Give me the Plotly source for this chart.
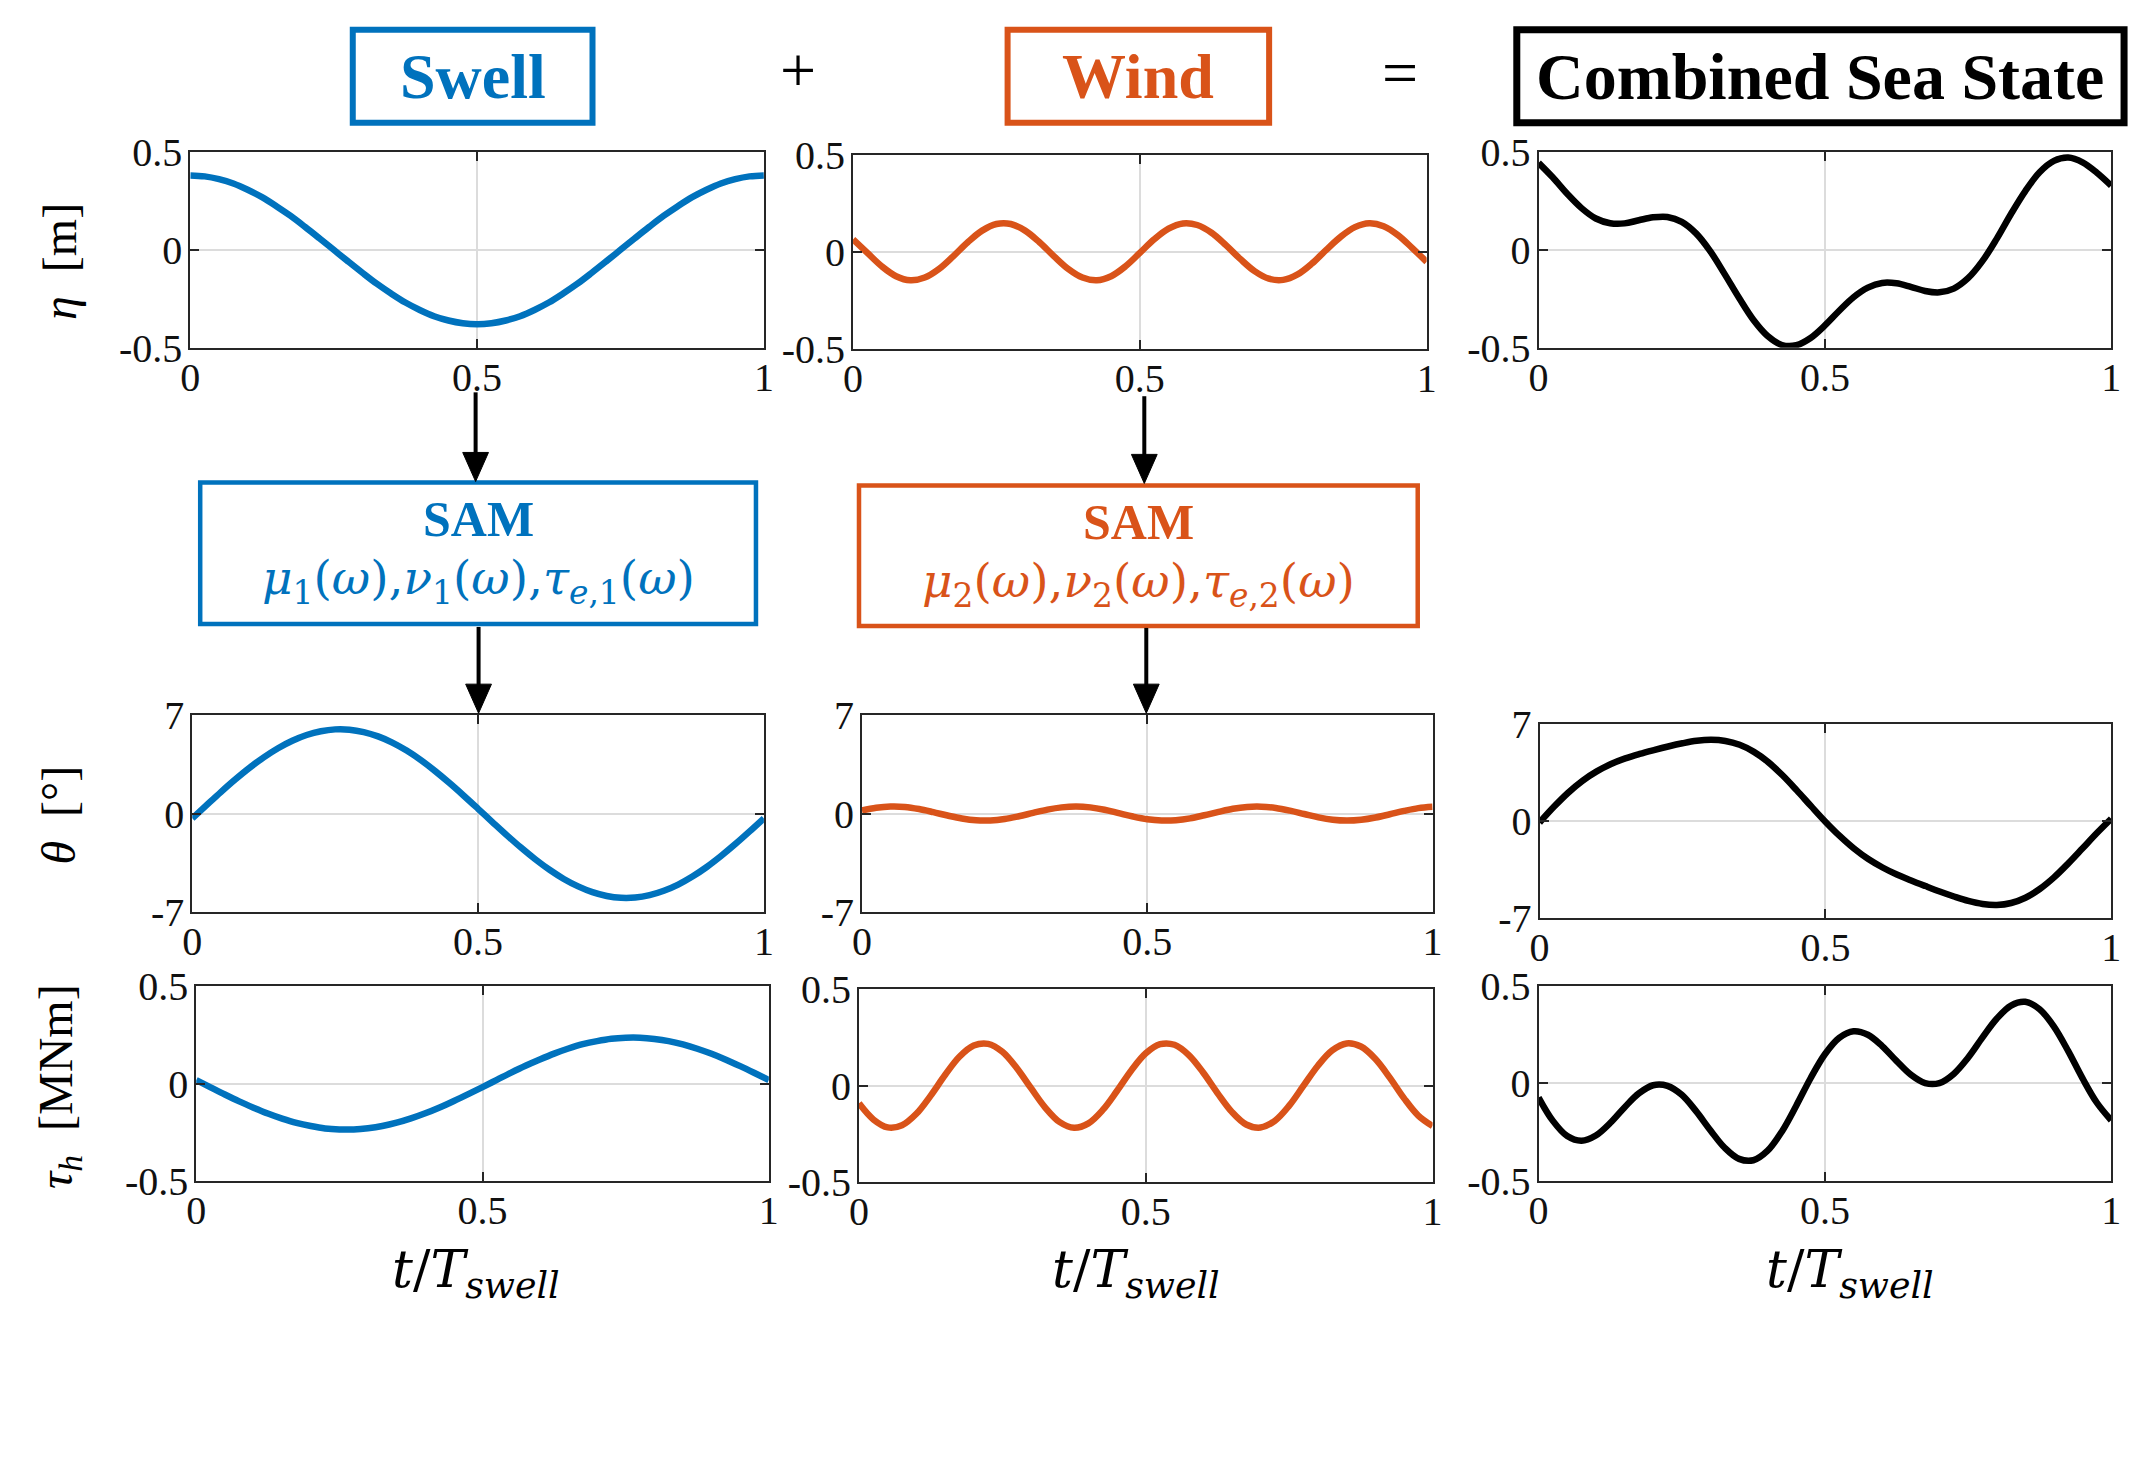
import plotly.graph_objects as go

W, H = 2141, 1474

# ---------------- data ----------------
t_norm = [0.000, 0.025, 0.050, 0.075, 0.100, 0.125, 0.150, 0.175, 0.200, 0.225,
          0.250, 0.275, 0.300, 0.325, 0.350, 0.375, 0.400, 0.425, 0.450, 0.475,
          0.500, 0.525, 0.550, 0.575, 0.600, 0.625, 0.650, 0.675, 0.700, 0.725,
          0.750, 0.775, 0.800, 0.825, 0.850, 0.875, 0.900, 0.925, 0.950, 0.975, 1.000]

eta_swell = [0.380, 0.375, 0.361, 0.339, 0.307, 0.269, 0.223, 0.173, 0.117, 0.059,
             0.000, -0.059, -0.117, -0.173, -0.223, -0.269, -0.307, -0.339, -0.361, -0.375,
             -0.380, -0.375, -0.361, -0.339, -0.307, -0.269, -0.223, -0.173, -0.117, -0.059,
             0.000, 0.059, 0.117, 0.173, 0.223, 0.269, 0.307, 0.339, 0.361, 0.375, 0.380]
eta_wind = [0.064, -0.006, -0.075, -0.126, -0.147, -0.133, -0.088, -0.022, 0.049, 0.109,
            0.143, 0.143, 0.109, 0.049, -0.022, -0.088, -0.133, -0.147, -0.126, -0.075,
            -0.006, 0.064, 0.119, 0.146, 0.138, 0.098, 0.034, -0.037, -0.100, -0.139,
            -0.145, -0.117, -0.061, 0.010, 0.077, 0.127, 0.147, 0.132, 0.086, 0.019, -0.052]
eta_comb = [0.444, 0.369, 0.286, 0.213, 0.160, 0.136, 0.135, 0.151, 0.166, 0.168,
            0.143, 0.084, -0.008, -0.124, -0.245, -0.357, -0.440, -0.486, -0.487, -0.450,
            -0.386, -0.311, -0.242, -0.193, -0.169, -0.171, -0.189, -0.210, -0.217, -0.198,
            -0.145, -0.058, 0.056, 0.183, 0.300, 0.396, 0.454, 0.471, 0.447, 0.394, 0.328]

theta_swell = [-0.34, 0.60, 1.53, 2.42, 3.25, 4.00, 4.65, 5.18, 5.59, 5.86,
               5.99, 5.97, 5.80, 5.49, 5.05, 4.48, 3.80, 3.02, 2.17, 1.27,
               0.34, -0.60, -1.53, -2.42, -3.25, -4.00, -4.65, -5.18, -5.59, -5.86,
               -5.99, -5.97, -5.80, -5.49, -5.05, -4.48, -3.80, -3.02, -2.17, -1.27, -0.34]
theta_wind = [0.22, 0.41, 0.50, 0.47, 0.32, 0.10, -0.14, -0.35, -0.48, -0.49,
              -0.39, -0.19, 0.05, 0.28, 0.44, 0.50, 0.44, 0.27, 0.03, -0.21,
              -0.40, -0.49, -0.47, -0.34, -0.12, 0.12, 0.34, 0.47, 0.49, 0.40,
              0.21, -0.03, -0.27, -0.44, -0.50, -0.44, -0.28, -0.05, 0.19, 0.39, 0.49]
theta_comb = [-0.12, 1.01, 2.03, 2.89, 3.57, 4.10, 4.51, 4.83, 5.11, 5.37,
              5.60, 5.78, 5.85, 5.77, 5.49, 4.98, 4.24, 3.29, 2.20, 1.06,
              -0.06, -1.09, -2.00, -2.76, -3.37, -3.88, -4.31, -4.71, -5.10, -5.46,
              -5.78, -6.00, -6.07, -5.93, -5.55, -4.92, -4.08, -3.07, -1.98, -0.88, 0.15]

tau_swell = [0.018, -0.019, -0.056, -0.091, -0.123, -0.153, -0.179, -0.201, -0.217, -0.229,
             -0.234, -0.234, -0.228, -0.217, -0.200, -0.178, -0.152, -0.122, -0.089, -0.054,
             -0.018, 0.019, 0.056, 0.091, 0.123, 0.153, 0.179, 0.201, 0.217, 0.229,
             0.234, 0.234, 0.228, 0.217, 0.200, 0.178, 0.152, 0.122, 0.089, 0.054, 0.018]
tau_wind = [-0.092, -0.175, -0.216, -0.205, -0.146, -0.052, 0.054, 0.148, 0.206, 0.215,
            0.174, 0.090, -0.014, -0.115, -0.189, -0.218, -0.195, -0.126, -0.027, 0.079,
            0.166, 0.213, 0.210, 0.157, 0.067, -0.039, -0.136, -0.201, -0.217, -0.182,
            -0.104, -0.001, 0.102, 0.181, 0.217, 0.201, 0.138, 0.042, -0.065, -0.155, -0.209]
tau_comb = [-0.074, -0.194, -0.272, -0.296, -0.269, -0.205, -0.125, -0.053, -0.011, -0.014,
            -0.060, -0.144, -0.242, -0.332, -0.389, -0.396, -0.347, -0.248, -0.116, 0.025,
            0.148, 0.232, 0.266, 0.248, 0.190, 0.114, 0.043, 0.000, 0.000, 0.047,
            0.130, 0.233, 0.330, 0.398, 0.417, 0.379, 0.290, 0.164, 0.024, -0.101, -0.191]

x_tickvals = [0, 0.5, 1]
x_ticktext = ["0", "0.5", "1"]
eta_tickvals = [-0.5, 0, 0.5]
eta_ticktext = ["-0.5", "0", "0.5"]
theta_tickvals = [-7, 0, 7]
theta_ticktext = ["-7", "0", "7"]
tau_tickvals = [-0.5, 0, 0.5]
tau_ticktext = ["-0.5", "0", "0.5"]

column_titles = ["Swell", "Wind", "Combined Sea State"]
row_titles = ["<i>η</i>  [m]", "<i>θ</i>  [°]", "<i>τ</i><sub><i>h</i></sub>  [MNm]"]
x_title = "<i>t</i>/<i>T</i><sub><i>swell</i></sub>"
sam_title = "SAM"
sam_params = [
    "<i>μ</i><sub>1</sub>(<i>ω</i>),<i>ν</i><sub>1</sub>(<i>ω</i>),<i>τ</i><sub><i>e</i>,1</sub>(<i>ω</i>)",
    "<i>μ</i><sub>2</sub>(<i>ω</i>),<i>ν</i><sub>2</sub>(<i>ω</i>),<i>τ</i><sub><i>e</i>,2</sub>(<i>ω</i>)",
]

# ---------------- styling ----------------
BLUE = "#0072BD"
ORANGE = "#D95319"
BLACK = "#000000"
AXC = "#262626"
GRID = "#dcdcdc"
SERIF = "Liberation Serif, Times New Roman, serif"
MATH = "DejaVu Serif, serif"


def fx(px):
    return px / W


def fy(py):
    return 1 - py / H


# panel pixel boxes: (left, right, top, bottom)
panel_px = [
    [(182, 761, 134, 336), (851, 1430, 137, 337), (1543, 2121, 134, 336)],
    [(184, 761, 715, 918), (860, 1436, 715, 918), (1544, 2121, 724, 924)],
    [(188, 766, 994, 1196), (857, 1436, 997, 1197), (1543, 2121, 994, 1195)],
]
series = [
    [eta_swell, eta_wind, eta_comb],
    [theta_swell, theta_wind, theta_comb],
    [tau_swell, tau_wind, tau_comb],
]
yranges = [[-0.5, 0.5], [-7, 7], [-0.5, 0.5]]
ytv = [eta_tickvals, theta_tickvals, tau_tickvals]
ytt = [eta_ticktext, theta_ticktext, tau_ticktext]
colors = [BLUE, ORANGE, BLACK]

fig = go.Figure()
layout_axes = {}
k = 0
for r in range(3):
    for c in range(3):
        k += 1
        L, R, T, B = panel_px[r][c]
        xa = "x" if k == 1 else f"x{k}"
        ya = "y" if k == 1 else f"y{k}"
        fig.add_trace(go.Scatter(
            x=t_norm, y=series[r][c], mode="lines",
            line=dict(color=colors[c], width=6.5, shape="spline", smoothing=1.0),
            xaxis=xa, yaxis=ya, showlegend=False, hoverinfo="skip"))
        common = dict(
            showgrid=True, gridcolor=GRID, gridwidth=1.5,
            showline=True, linecolor=AXC, linewidth=2, mirror="ticks",
            ticks="inside", ticklen=9, tickwidth=2, tickcolor=AXC,
            zeroline=False, fixedrange=True,
            tickfont=dict(family=SERIF, size=40, color="#111111"),
        )
        layout_axes["xaxis" if k == 1 else f"xaxis{k}"] = dict(
            domain=[fx(L), fx(R)], anchor=ya, range=[0, 1],
            tickmode="array", tickvals=x_tickvals, ticktext=x_ticktext,
            ticklabelstandoff=-7, **common)
        layout_axes["yaxis" if k == 1 else f"yaxis{k}"] = dict(
            domain=[fy(B), fy(T)], anchor=xa, range=yranges[r],
            tickmode="array", tickvals=ytv[r], ticktext=ytt[r],
            ticklabelstandoff=-2, **common)

fig.update_layout(**layout_axes)

shapes = []
annotations = []

# column title boxes
top_boxes = [(346, 588, 8, 104, BLUE, 6, 64), (1007, 1271, 8, 104, ORANGE, 6, 64),
             (1521, 2134, 8, 104, BLACK, 7, 66)]
for (x0, x1, y0, y1, col, lw, fs), txt in zip(top_boxes, column_titles):
    shapes.append(dict(type="rect", xref="paper", yref="paper",
                       x0=fx(x0), x1=fx(x1), y0=fy(y1), y1=fy(y0),
                       line=dict(color=col, width=lw), fillcolor="rgba(0,0,0,0)"))
    annotations.append(dict(xref="paper", yref="paper", x=fx((x0 + x1) / 2), y=fy(56),
                            text=f"<b>{txt}</b>", showarrow=False,
                            font=dict(family=SERIF, size=fs, color=col),
                            xanchor="center", yanchor="middle"))

# + and =
annotations.append(dict(xref="paper", yref="paper", x=fx(795), y=fy(50), text="+",
                        showarrow=False, font=dict(family=SERIF, size=64, color=BLACK),
                        xanchor="center", yanchor="middle"))
annotations.append(dict(xref="paper", yref="paper", x=fx(1403), y=fy(52), text="=",
                        showarrow=False, font=dict(family=SERIF, size=64, color=BLACK),
                        xanchor="center", yanchor="middle"))

# SAM boxes
sam_boxes = [(192, 753, 475, 621, BLUE), (857, 1421, 478, 623, ORANGE)]
for (x0, x1, y0, y1, col), ptxt in zip(sam_boxes, sam_params):
    shapes.append(dict(type="rect", xref="paper", yref="paper",
                       x0=fx(x0), x1=fx(x1), y0=fy(y1), y1=fy(y0),
                       line=dict(color=col, width=4.5), fillcolor="rgba(0,0,0,0)"))
    cx = (x0 + x1) / 2
    annotations.append(dict(xref="paper", yref="paper", x=fx(cx), y=fy(y0 + 38),
                            text=f"<b>{sam_title}</b>", showarrow=False,
                            font=dict(family=SERIF, size=50, color=col),
                            xanchor="center", yanchor="middle"))
    annotations.append(dict(xref="paper", yref="paper", x=fx(cx), y=fy(y0 + 102),
                            text=ptxt, showarrow=False,
                            font=dict(family=MATH, size=47, color=col),
                            xanchor="center", yanchor="middle"))

# arrows (shaft + filled head)
arrows = [(470, 382, 474), (473, 624, 713), (1145, 386, 476), (1147, 625, 713)]
for ax_, ys, ye in arrows:
    head = 30
    shapes.append(dict(type="line", xref="paper", yref="paper",
                       x0=fx(ax_), x1=fx(ax_), y0=fy(ys), y1=fy(ye - head + 2),
                       line=dict(color=BLACK, width=4)))
    shapes.append(dict(type="path", xref="paper", yref="paper",
                       path=f"M {fx(ax_ - 13)},{fy(ye - head)} L {fx(ax_ + 13)},{fy(ye - head)} "
                            f"L {fx(ax_)},{fy(ye)} Z",
                       fillcolor=BLACK, line=dict(color=BLACK, width=1)))

# row titles (rotated)
row_title_pos = [(50, 247), (48, 818), (50, 1098)]
for (px_, py_), txt in zip(row_title_pos, row_titles):
    annotations.append(dict(xref="paper", yref="paper", x=fx(px_), y=fy(py_), text=txt,
                            showarrow=False, textangle=-90,
                            font=dict(family=SERIF, size=48, color=BLACK),
                            xanchor="center", yanchor="middle"))

# x titles
for px_ in (470, 1137, 1857):
    annotations.append(dict(xref="paper", yref="paper", x=fx(px_), y=fy(1290), text=x_title,
                            showarrow=False, font=dict(family=MATH, size=52, color=BLACK),
                            xanchor="center", yanchor="middle"))

fig.update_layout(
    width=W, height=H, autosize=False,
    margin=dict(l=0, r=0, t=0, b=0),
    paper_bgcolor="white", plot_bgcolor="white",
    shapes=shapes, annotations=annotations, showlegend=False,
)

post = (
    "document.documentElement.style.margin='0';"
    "document.documentElement.style.padding='0';"
    "document.body.style.margin='0';"
    "document.body.style.padding='0';"
    "document.body.style.overflow='hidden';"
    "var g=document.getElementsByClassName('plotly-graph-div')[0];"
    "g.style.position='absolute';g.style.left='0px';g.style.top='0px';"
)

fig.write_html("out.html", config={"displayModeBar": False}, post_script=post)
